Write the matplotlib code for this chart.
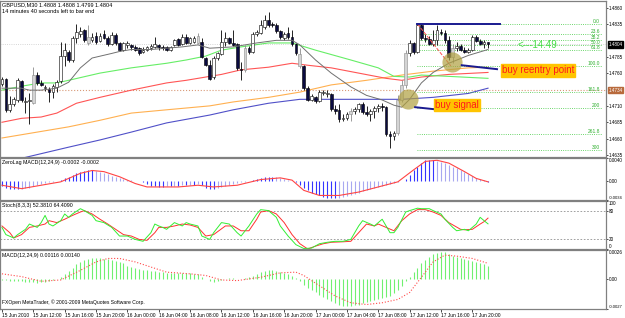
import numpy as np
import matplotlib
matplotlib.use('Agg')
import matplotlib.pyplot as plt
from matplotlib.transforms import blended_transform_factory

plt.rcParams['font.family'] = ['Liberation Sans', 'DejaVu Sans']

W, H = 625, 318

# GBPUSD M30, bar 0 = 15 Jun 2010 08:00
opens = [1.4743, 1.4751, 1.4704, 1.4713, 1.4719, 1.4748, 1.4716, 1.4717, 1.4714, 1.4757,
         1.4745, 1.4737, 1.4736, 1.4731, 1.4739, 1.4748, 1.4786, 1.4792, 1.4780, 1.4813,
         1.4819, 1.4825, 1.4806, 1.4810, 1.4816, 1.4809, 1.4819, 1.4813, 1.4804, 1.4818,
         1.4806, 1.4795, 1.4803, 1.4803, 1.4800, 1.4798, 1.4792, 1.4796, 1.4798, 1.4800,
         1.4803, 1.4800, 1.4800, 1.4795, 1.4803, 1.4812, 1.4804, 1.4815, 1.4806, 1.4807,
         1.4806, 1.4807, 1.4783, 1.4772, 1.4754, 1.4783, 1.4789, 1.4807, 1.4813, 1.4806,
         1.4804, 1.4766, 1.4765, 1.4798, 1.4792, 1.4819, 1.4821, 1.4831, 1.4841, 1.4835,
         1.4833, 1.4824, 1.4813, 1.4821, 1.4815, 1.4804, 1.4789, 1.4771, 1.4737, 1.4719,
         1.4723, 1.4717, 1.4729, 1.4728, 1.4728, 1.4705, 1.4704, 1.4690, 1.4691, 1.4697,
         1.4702, 1.4705, 1.4713, 1.4700, 1.4697, 1.4702, 1.4707, 1.4710, 1.4708, 1.4667,
         1.4664, 1.4668, 1.4719, 1.4742, 1.4790, 1.4806, 1.4792, 1.4833, 1.4813, 1.4812,
         1.4804, 1.4810, 1.4822, 1.4821, 1.4810, 1.4784, 1.4798, 1.4801, 1.4795, 1.4792,
         1.4796, 1.4815, 1.4809, 1.4804, 1.4808]
highs = [1.4754, 1.4752, 1.4725, 1.4723, 1.4752, 1.4749, 1.4723, 1.4729, 1.4769, 1.4761,
         1.4749, 1.4742, 1.4739, 1.4743, 1.4749, 1.4807, 1.4806, 1.4795, 1.4816, 1.4835,
         1.4830, 1.4828, 1.4833, 1.4821, 1.4822, 1.4821, 1.4825, 1.4816, 1.4822, 1.4821,
         1.4807, 1.4807, 1.4809, 1.4804, 1.4803, 1.4800, 1.4800, 1.4801, 1.4804, 1.4815,
         1.4804, 1.4803, 1.4801, 1.4801, 1.4812, 1.4813, 1.4819, 1.4819, 1.4815, 1.4816,
         1.4821, 1.4813, 1.4784, 1.4780, 1.4786, 1.4792, 1.4825, 1.4822, 1.4815, 1.4825,
         1.4806, 1.4777, 1.4803, 1.4801, 1.4822, 1.4825, 1.4841, 1.4848, 1.4853, 1.4838,
         1.4836, 1.4825, 1.4822, 1.4830, 1.4825, 1.4806, 1.4798, 1.4772, 1.4740, 1.4728,
         1.4725, 1.4734, 1.4734, 1.4734, 1.4729, 1.4711, 1.4713, 1.4697, 1.4700, 1.4707,
         1.4708, 1.4714, 1.4716, 1.4710, 1.4705, 1.4710, 1.4713, 1.4714, 1.4710, 1.4672,
         1.4672, 1.4726, 1.4749, 1.4795, 1.4810, 1.4807, 1.4836, 1.4835, 1.4819, 1.4816,
         1.4825, 1.4833, 1.4828, 1.4825, 1.4816, 1.4804, 1.4807, 1.4804, 1.4800, 1.4798,
         1.4818, 1.4818, 1.4812, 1.4810, 1.4808]
lows = [1.4740, 1.4700, 1.4700, 1.4710, 1.4716, 1.4716, 1.4699, 1.4682, 1.4713, 1.4742,
        1.4740, 1.4732, 1.4716, 1.4722, 1.4731, 1.4745, 1.4771, 1.4777, 1.4777, 1.4806,
        1.4815, 1.4807, 1.4803, 1.4807, 1.4804, 1.4807, 1.4812, 1.4801, 1.4803, 1.4803,
        1.4793, 1.4793, 1.4798, 1.4796, 1.4793, 1.4787, 1.4790, 1.4793, 1.4796, 1.4798,
        1.4796, 1.4795, 1.4793, 1.4793, 1.4801, 1.4801, 1.4803, 1.4804, 1.4804, 1.4806,
        1.4804, 1.4783, 1.4771, 1.4749, 1.4751, 1.4780, 1.4787, 1.4801, 1.4804, 1.4801,
        1.4765, 1.4749, 1.4761, 1.4789, 1.4790, 1.4816, 1.4819, 1.4828, 1.4831, 1.4831,
        1.4821, 1.4812, 1.4810, 1.4812, 1.4801, 1.4787, 1.4768, 1.4734, 1.4717, 1.4717,
        1.4714, 1.4716, 1.4726, 1.4723, 1.4702, 1.4697, 1.4685, 1.4687, 1.4688, 1.4687,
        1.4697, 1.4700, 1.4697, 1.4694, 1.4687, 1.4691, 1.4700, 1.4702, 1.4664, 1.4646,
        1.4658, 1.4665, 1.4716, 1.4737, 1.4786, 1.4789, 1.4790, 1.4810, 1.4807, 1.4803,
        1.4801, 1.4803, 1.4818, 1.4806, 1.4780, 1.4775, 1.4793, 1.4793, 1.4790, 1.4790,
        1.4793, 1.4807, 1.4803, 1.4798, 1.4799]
closes = [1.4751, 1.4704, 1.4713, 1.4720, 1.4749, 1.4719, 1.4717, 1.4719, 1.4757, 1.4745,
          1.4742, 1.4739, 1.4731, 1.4740, 1.4746, 1.4786, 1.4795, 1.4780, 1.4813, 1.4822,
          1.4824, 1.4810, 1.4815, 1.4815, 1.4807, 1.4816, 1.4813, 1.4804, 1.4818, 1.4806,
          1.4795, 1.4806, 1.4806, 1.4800, 1.4796, 1.4790, 1.4796, 1.4800, 1.4801, 1.4804,
          1.4800, 1.4798, 1.4795, 1.4800, 1.4810, 1.4803, 1.4815, 1.4806, 1.4813, 1.4813,
          1.4816, 1.4784, 1.4772, 1.4751, 1.4783, 1.4790, 1.4807, 1.4813, 1.4806, 1.4803,
          1.4768, 1.4765, 1.4798, 1.4792, 1.4819, 1.4822, 1.4833, 1.4841, 1.4833, 1.4833,
          1.4824, 1.4815, 1.4819, 1.4815, 1.4804, 1.4790, 1.4771, 1.4737, 1.4719, 1.4725,
          1.4717, 1.4731, 1.4731, 1.4729, 1.4705, 1.4702, 1.4690, 1.4691, 1.4697, 1.4702,
          1.4705, 1.4713, 1.4700, 1.4697, 1.4702, 1.4707, 1.4710, 1.4708, 1.4667, 1.4664,
          1.4668, 1.4719, 1.4742, 1.4790, 1.4806, 1.4792, 1.4833, 1.4813, 1.4812, 1.4804,
          1.4810, 1.4825, 1.4821, 1.4810, 1.4784, 1.4798, 1.4801, 1.4795, 1.4792, 1.4796,
          1.4815, 1.4809, 1.4804, 1.4808, 1.4804]
gray_bars = [8, 22, 50, 62, 76, 89, 101, 102, 103, 115]

# moving averages, read at sample bars
ma_gray_bar = [0, 5, 7, 10, 14, 17, 20, 23, 28, 30, 33, 38, 42, 46, 50, 53, 59, 65, 70, 74,
               76, 80, 84, 89, 93, 97, 100, 102, 104, 107, 110, 114, 119, 124]
ma_gray = [1.4737, 1.4737, 1.4734, 1.4734, 1.4737, 1.4746, 1.4768, 1.4783, 1.4790, 1.4793,
           1.4796, 1.4796, 1.4798, 1.4800, 1.4803, 1.4798, 1.4800, 1.4806, 1.4810, 1.4810,
           1.4803, 1.4780, 1.4760, 1.4739, 1.4726, 1.4719, 1.4711, 1.4708, 1.4720, 1.4745,
           1.4761, 1.4775, 1.4787, 1.4796]
ma_green_bar = [0, 5, 10, 14, 17, 25, 33, 42, 47, 52, 56, 61, 68, 74, 80, 89, 96, 100, 104,
                107, 114, 124]
ma_green = [1.4734, 1.4740, 1.4745, 1.4745, 1.4749, 1.4760, 1.4768, 1.4775, 1.4780, 1.4786,
            1.4795, 1.4800, 1.4806, 1.4806, 1.4795, 1.4780, 1.4768, 1.4755, 1.4754, 1.4757,
            1.4755, 1.4752]
ma_red_bar = [0, 5, 10, 14, 19, 25, 33, 42, 47, 52, 56, 61, 68, 74, 78, 84, 91, 98, 102,
              107, 114, 124]
ma_red = [1.4685, 1.4691, 1.4693, 1.4699, 1.4714, 1.4723, 1.4734, 1.4745, 1.4749, 1.4754,
          1.4758, 1.4765, 1.4769, 1.4775, 1.4772, 1.4768, 1.4760, 1.4752, 1.4749, 1.4754,
          1.4758, 1.4761]
ma_orange_bar = [0, 8, 17, 25, 33, 42, 53, 59, 68, 76, 84, 93, 102, 110, 119, 124]
ma_orange = [1.4661, 1.4669, 1.4678, 1.4688, 1.4699, 1.4704, 1.4710, 1.4716, 1.4723, 1.4731,
             1.4742, 1.4749, 1.4757, 1.4763, 1.4768, 1.4769]
ma_blue_bar = [0, 5, 17, 25, 33, 42, 53, 59, 68, 76, 84, 93, 102, 110, 119, 124]
ma_blue = [1.4626, 1.4630, 1.4647, 1.4658, 1.4670, 1.4684, 1.4696, 1.4704, 1.4714, 1.4720,
           1.4720, 1.4720, 1.4720, 1.4723, 1.4729, 1.4737]

# fibonacci drawn from the 17 Jun high to the pullback low
fib_high, fib_low = 1.4835, 1.4771
fib_start, fib_end = 106, 114.5
fib_levels = [0.0, 23.6, 38.2, 50.0, 61.8, 100.0, 161.8, 200.0, 261.8, 300.0]
fib_labels = ['0.0', '23.6', '38.2', '50.0', '61.8', '100.0', '161.8', '200', '261.8', '300']

bid_price = 1.4804
hline_price = 1.4734
main_ticks = [1.4860, 1.4835, 1.4785, 1.4760, 1.4710, 1.4685, 1.4660, 1.4635]

# annotations (bar, price)
reentry_circle = (114.8, 1.4777)
signal_circle = (103.6, 1.4720)
reentry_arrow = ([117.3, 126.3], [1.4772, 1.4766])
signal_arrow = ([105.4, 111.7], [1.4708, 1.4704])
top_line = ([106, 127], [1.4835, 1.4835])

# ZeroLag MACD(12,24,9), per bar
zl_hist = [-0.0010, -0.0012, -0.0014, -0.0015, -0.0015, -0.0014, -0.0013, -0.0012, -0.0010, -0.0007,
           -0.0005, -0.0004, -0.0003, -0.0002, -0.0001, 0.0001, 0.0004, 0.0007, 0.0010, 0.0013,
           0.0016, 0.0017, 0.0018, 0.0018, 0.0017, 0.0015, 0.0013, 0.0011, 0.0009, 0.0007,
           0.0005, 0.0003, 0.0002, 0.0001, 0.0000, -0.0001, -0.0003, -0.0005, -0.0009, -0.0010,
           -0.0011, -0.0011, -0.0010, -0.0010, -0.0009, -0.0009, -0.0008, -0.0008, -0.0007, -0.0007,
           -0.0006, -0.0008, -0.0012, -0.0015, -0.0015, -0.0013, -0.0011, -0.0009, -0.0007, -0.0005,
           -0.0004, -0.0003, -0.0002, 0.0000, 0.0001, 0.0003, 0.0005, 0.0006, 0.0007, 0.0007,
           0.0006, 0.0005, 0.0003, 0.0002, 0.0000, -0.0003, -0.0007, -0.0012, -0.0017, -0.0021,
           -0.0024, -0.0026, -0.0028, -0.0030, -0.0031, -0.0031, -0.0030, -0.0029, -0.0027, -0.0025,
           -0.0023, -0.0021, -0.0019, -0.0017, -0.0015, -0.0013, -0.0011, -0.0009, -0.0008, -0.0006,
           -0.0004, -0.0002, 0.0000, 0.0003, 0.0010, 0.0018, 0.0025, 0.0032, 0.0036, 0.0037,
           0.0037, 0.0035, 0.0033, 0.0031, 0.0028, 0.0025, 0.0022, 0.0019, 0.0015, 0.0011,
           0.0008, 0.0005, 0.0003, 0.0001, -0.0002]
zl_sig_bar = [0, 5, 10, 15, 20, 23, 26, 30, 34, 37, 45, 50, 54, 60, 66, 71, 74, 77, 81, 86,
              91, 96, 101, 105, 108, 111, 114, 118, 121, 124]
zl_sig = [-0.0008, -0.0014, -0.0008, -0.0002, 0.0013, 0.0018, 0.0016, 0.0007, -0.0005, -0.0011,
          -0.0011, -0.0008, -0.0011, -0.0008, 0.0002, 0.0005, 0.0001, -0.0017, -0.0026, -0.0026,
          -0.0020, -0.0011, -0.0002, 0.0019, 0.0034, 0.0036, 0.0031, 0.0016, 0.0004, -0.0002]

# Stoch(8,3,3)
stk_bar = [0, 1, 3, 4, 6, 7, 9, 10, 11, 12, 13, 15, 16, 17, 18, 20, 21, 23, 24, 26, 28, 30,
           32, 34, 36, 38, 39, 40, 41, 42, 44, 46, 47, 48, 50, 51, 53, 54, 56, 58, 60, 61, 63,
           65, 66, 68, 70, 71, 73, 75, 77, 79, 81, 83, 85, 87, 89, 91, 92, 94, 95, 97, 98, 99,
           100, 101, 103, 104, 106, 107, 109, 110, 112, 113, 115, 116, 118, 119, 121, 122, 123, 124]
stk = [45, 30, 23, 30, 41, 52, 45, 55, 70, 52, 48, 59, 73, 66, 73, 84, 80, 70, 59, 55, 45, 27,
       27, 20, 16, 34, 52, 48, 45, 41, 55, 48, 55, 52, 48, 27, 20, 34, 55, 52, 34, 27, 48,
       73, 82, 80, 66, 48, 27, 9, 1, 2, 11, 14, 16, 16, 20, 48, 59, 52, 48, 62, 48, 34,
       34, 45, 77, 80, 85, 84, 84, 80, 73, 62, 45, 38, 41, 38, 52, 66, 59, 52.381]
std_bar = [0, 2, 3, 5, 7, 9, 11, 12, 14, 16, 18, 20, 21, 23, 25, 27, 29, 31, 33, 35, 37, 39,
           40, 42, 44, 46, 48, 50, 52, 54, 57, 59, 61, 63, 65, 66, 68, 70, 72, 74, 76, 78, 80,
           82, 84, 87, 89, 91, 93, 95, 96, 98, 100, 102, 104, 106, 108, 110, 112, 114, 117,
           118, 120, 122, 123, 124]
std = [48, 34, 23, 30, 45, 48, 52, 59, 55, 62, 70, 77, 80, 73, 62, 52, 41, 30, 27, 20, 18, 34,
       45, 45, 48, 52, 50, 45, 27, 30, 48, 48, 38, 38, 62, 77, 80, 73, 55, 30, 11, 0, 6,
       11, 14, 15, 16, 34, 52, 48, 52, 45, 38, 59, 73, 82, 82, 77, 70, 55, 41, 40, 41, 52,
       57, 64.409]

# MACD(12,24,9)
macd_hist = [-0.0001, -0.0001, -0.0002, -0.0002, -0.0002, -0.0002, -0.0003, -0.0003, -0.0003, -0.0004,
             -0.0003, -0.0003, -0.0002, -0.0001, 0.0000, 0.0002, 0.0004, 0.0007, 0.0010, 0.0013,
             0.0015, 0.0017, 0.0018, 0.0019, 0.0019, 0.0019, 0.0018, 0.0018, 0.0017, 0.0016,
             0.0015, 0.0014, 0.0012, 0.0011, 0.0010, 0.0009, 0.0008, 0.0008, 0.0007, 0.0007,
             0.0006, 0.0006, 0.0005, 0.0005, 0.0005, 0.0005, 0.0005, 0.0005, 0.0005, 0.0004,
             0.0004, 0.0002, 0.0000, -0.0002, -0.0003, -0.0002, -0.0001, 0.0000, 0.0001, 0.0001,
             0.0000, 0.0000, 0.0001, 0.0002, 0.0003, 0.0004, 0.0006, 0.0007, 0.0008, 0.0008,
             0.0007, 0.0006, 0.0005, 0.0004, 0.0003, 0.0001, -0.0002, -0.0005, -0.0008, -0.0010,
             -0.0012, -0.0014, -0.0016, -0.0018, -0.0020, -0.0022, -0.0023, -0.0024, -0.0024, -0.0024,
             -0.0023, -0.0023, -0.0022, -0.0021, -0.0020, -0.0019, -0.0018, -0.0017, -0.0016, -0.0015,
             -0.0013, -0.0010, -0.0006, -0.0002, 0.0002, 0.0006, 0.0010, 0.0014, 0.0017, 0.0020,
             0.0022, 0.0023, 0.0024, 0.0024, 0.0022, 0.0021, 0.0020, 0.0019, 0.0018, 0.0017,
             0.0016, 0.0015, 0.0014, 0.0013, 0.00116]
macd_sig_bar = [0, 5, 10, 15, 20, 24, 27, 30, 34, 38, 42, 48, 52, 56, 60, 66, 71, 75, 77, 81,
                85, 89, 93, 97, 101, 104, 107, 110, 113, 116, 120, 124]
macd_sig = [0.00046, 0.00021, -0.00021, -0.00009, 0.00077, 0.00153, 0.00184, 0.00184, 0.00153,
            0.00107, 0.00061, 0.00046, 0.00031, -0.00009, -0.00015, 0.00015, 0.00055, 0.00061,
            0.00031, -0.00061, -0.00153, -0.00214, -0.00230, -0.00214, -0.00184, -0.00122,
            0.00015, 0.00153, 0.00214, 0.00205, 0.00184, 0.00140]

time_bars = [0, 8, 16, 24, 32, 40, 48, 56, 64, 72, 80, 88, 96, 104, 112, 120]
time_labels = ['15 Jun 2010', '15 Jun 12:00', '15 Jun 16:00', '15 Jun 20:00', '16 Jun 00:00',
               '16 Jun 04:00', '16 Jun 08:00', '16 Jun 12:00', '16 Jun 16:00', '16 Jun 20:00',
               '17 Jun 00:00', '17 Jun 04:00', '17 Jun 08:00', '17 Jun 12:00', '17 Jun 16:00',
               '17 Jun 20:00']

# ---- figure ----
fig = plt.figure(figsize=(W / 100, H / 100), dpi=100)


def panel(top, bottom):
    ax = fig.add_axes([0, 1 - bottom / H, 606 / W, (bottom - top) / H])
    ax.set_xlim(-0.5, 154.1)
    for s in ax.spines.values():
        s.set_color('#808080')
        s.set_linewidth(0.9)
    ax.yaxis.tick_right()
    ax.tick_params(axis='y', labelsize=3.3, length=1.5, width=0.5, pad=0.6)
    ax.tick_params(axis='x', bottom=False, labelbottom=False)
    return ax


def edge_labels(ax):
    labs = ax.get_yticklabels()
    labs[0].set_va('top')
    labs[-1].set_va('bottom')
    for t in labs:
        if t.get_text().startswith('-'):
            t.set_fontsize(3.0)


ax = panel(1, 157)
ax.set_ylim(1.4632, 1.4870)

x = np.arange(len(closes))
o, h, l, c = map(np.array, (opens, highs, lows, closes))
face = np.where(c >= o, 'white', '#0A0A40').astype(object)
edge = np.array(['black'] * len(x), dtype=object)
for g in gray_bars:
    face[g] = '#D4D4D4'
    edge[g] = '#8C8C8C'

ax.axhline(bid_price, color='#C8C8C8', lw=0.6, ls=':', zorder=1)
ax.axhline(hline_price, color='#D89A78', lw=0.8, ls=':', zorder=1)

ax.plot(ma_blue_bar, ma_blue, color='#5050C8', lw=0.8, zorder=2)
ax.plot(ma_orange_bar, ma_orange, color='#FFB050', lw=0.8, zorder=2)
ax.plot(ma_red_bar, ma_red, color='#FF5555', lw=0.8, zorder=2)
ax.plot(ma_green_bar, ma_green, color='#66EE66', lw=0.8, zorder=2)

ax.vlines(x, l, h, colors=list(edge), lw=0.6, zorder=3)
ax.bar(x, np.maximum(np.abs(c - o), 0.00003), 0.7, np.minimum(o, c),
       color=list(face), edgecolor=list(edge), lw=0.4, zorder=4)
ax.plot(ma_gray_bar, ma_gray, color='#707070', lw=0.7, zorder=5)

# fibonacci
rng = fib_high - fib_low
for lvl, lab in zip(fib_levels, fib_labels):
    p = fib_high - lvl / 100 * rng
    ax.hlines(p, fib_start, 153, color='#3CC83C', lw=0.6, ls=':', zorder=2)
    ax.text(152.6, p, lab, fontsize=3.5, color='#30B030', ha='right', va='bottom')
ax.plot([fib_start, fib_end], [fib_high, fib_low], color='#FF5050', lw=0.7, ls='--', zorder=5)

# user drawings
ax.plot(*top_line, color='#1A1A90', lw=1.4, zorder=6)
ax.scatter(*reentry_circle, s=210, color='#B0A040', alpha=0.7, lw=0, zorder=6)
ax.scatter(*signal_circle, s=210, color='#B0A040', alpha=0.7, lw=0, zorder=6)
ax.plot(*reentry_arrow, color='#1A1A90', lw=1.4, zorder=6)
ax.plot(*signal_arrow, color='#1A1A90', lw=1.4, zorder=6)
box = dict(facecolor='#FFC400', edgecolor='#FFC400', pad=0.8)
ax.text(127.5, 1.4764, 'buy reentry point', color='#FF1A1A', fontsize=7, va='center',
        bbox=box, zorder=7)
ax.text(110.6, 1.4711, 'buy signal', color='#FF1A1A', fontsize=7, va='center',
        bbox=box, zorder=7)
ax.text(131.4, 1.4803, '<---14.49', color='#44DD44', fontsize=7, va='center', zorder=7)

ax.text(0.004, 0.99, 'GBPUSD,M30 1.4808 1.4808 1.4799 1.4804\n14 minutes 40 seconds left to bar end',
        transform=ax.transAxes, fontsize=4, va='top', linespacing=1.3)

ax.set_yticks(main_ticks)
ax.set_yticklabels([f'{t:.4f}' for t in main_ticks])
tr = blended_transform_factory(ax.transAxes, ax.transData)
ax.text(1.004, bid_price, f'{bid_price:.4f}', transform=tr, fontsize=3.3, color='white',
        va='center', bbox=dict(facecolor='black', edgecolor='black', pad=0.6))
ax.text(1.004, hline_price, f'{hline_price:.4f}', transform=tr, fontsize=3.3, color='white',
        va='center', bbox=dict(facecolor='#B86A3C', edgecolor='#B86A3C', pad=0.6))

# ZeroLag MACD
ax2 = panel(158, 200)
ax2.set_ylim(-0.0034, 0.0040)
zh = np.array(zl_hist)
grow = np.abs(zh) >= np.abs(np.r_[0, zh[:-1]])
ax2.vlines(x, 0, zh, colors=np.where(grow, '#3535FF', '#A8A8F0'), lw=0.8)
ax2.plot(zl_sig_bar, zl_sig, color='#FF4444', lw=0.8)
ax2.set_yticks([0.0040, 0.0, -0.0034])
ax2.set_yticklabels(['0.0040', '0.00', '-0.0034'])
edge_labels(ax2)
ax2.text(0.004, 0.95, 'ZeroLag MACD(12,24,9) -0.0002 -0.0002', transform=ax2.transAxes,
         fontsize=3.8, va='top')

# Stochastic
ax3 = panel(201, 249)
ax3.set_ylim(0, 100)
for lv in (80, 20):
    ax3.axhline(lv, color='#909090', lw=0.6, ls=(0, (2, 2)))
ax3.plot(std_bar, std, color='#FF3030', lw=0.7)
ax3.plot(stk_bar, stk, color='#33EE33', lw=0.7)
ax3.set_yticks([100, 80, 20, 0])
ax3.set_yticklabels(['100', '80', '20', '0'])
edge_labels(ax3)
ax3.text(0.004, 0.95, 'Stoch(8,3,3) 52.3810 64.4090', transform=ax3.transAxes,
         fontsize=3.8, va='top')

# MACD
ax4 = panel(250, 309)
ax4.set_ylim(-0.0027, 0.0026)
ax4.vlines(x, 0, macd_hist, colors='#70F070', lw=0.8)
ax4.plot(macd_sig_bar, macd_sig, color='#FF4A4A', lw=0.8, ls=':')
ax4.set_yticks([0.0026, 0.0, -0.0027])
ax4.set_yticklabels(['0.0026', '0.00', '-0.0027'])
edge_labels(ax4)
ax4.text(0.004, 0.95, 'MACD(12,24,9) 0.00116 0.00140', transform=ax4.transAxes,
         fontsize=3.8, va='top')
ax4.text(0.004, 0.08, 'FXOpen MetaTrader, \u00a9 2001-2009 MetaQuotes Software Corp.',
         transform=ax4.transAxes, fontsize=3.6)
ax4.tick_params(axis='x', bottom=True, labelbottom=True, labelsize=3.5, length=2,
                width=0.5, pad=1)
ax4.set_xticks(time_bars)
ax4.set_xticklabels(time_labels)
for t in ax4.get_xticklabels():
    t.set_ha('left')

fig.savefig('out.png', dpi=100, facecolor='white')
